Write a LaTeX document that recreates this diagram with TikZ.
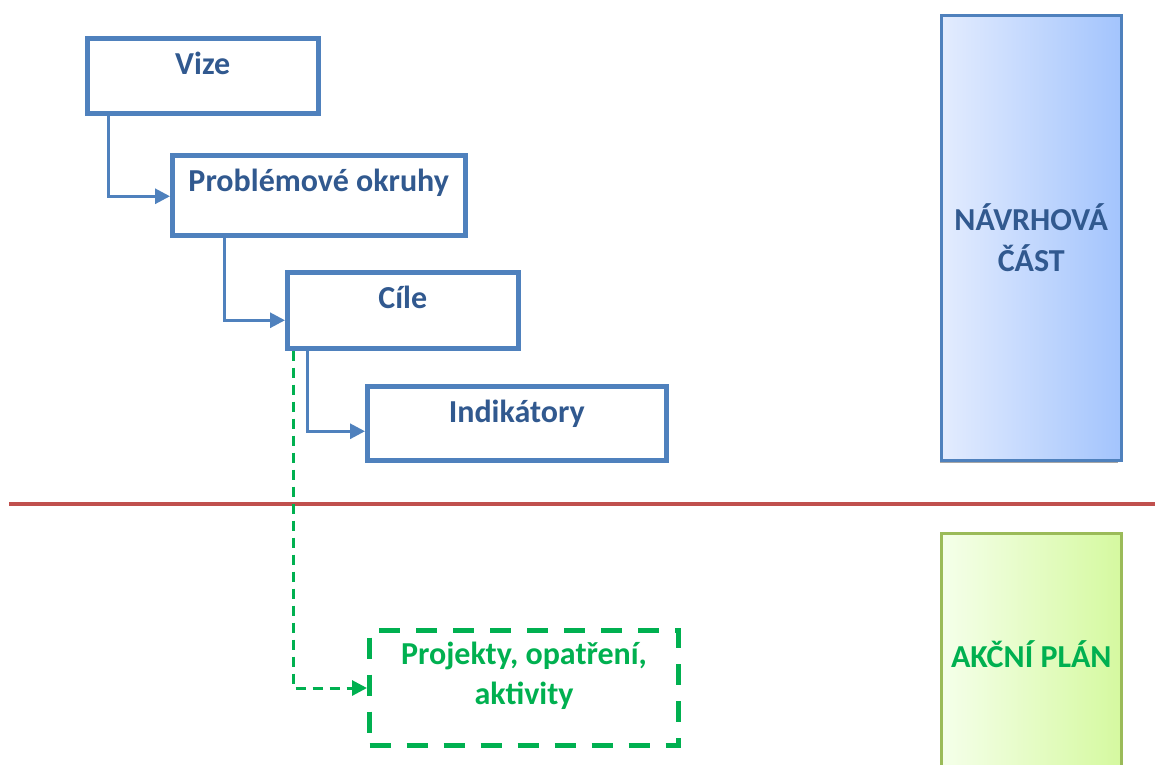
\documentclass[tikz,border=0pt]{standalone}
\usepackage{fontspec}
\setmainfont{Carlito}
\usetikzlibrary{positioning,arrows.meta,calc}
\definecolor{frame}{HTML}{4F81BD}
\definecolor{ink}{HTML}{31598F}
\definecolor{act}{HTML}{00B050}
\definecolor{cut}{HTML}{C0504D}
\definecolor{leaf}{HTML}{9BBB59}
\newcommand{\planfont}{\fontsize{32}{41}\selectfont\bfseries}

\begin{document}
\begin{tikzpicture}[x=1pt,y=-1pt,font=\planfont,
  stage/.style={draw=frame,line width=4.5pt,anchor=north west,inner xsep=0pt,inner ysep=0pt,
    text height=36pt,text depth=39pt,align=center,text=ink},
  link/.style={draw=frame,line width=3pt,-{Triangle[length=15pt,width=15pt]}},
  part/.style={draw,line width=2.5pt,anchor=north west,inner sep=0pt,align=center,
    minimum width=180pt}]
\useasboundingbox (0,0) rectangle (1155,764);

% staircase of the plan
\node[stage,minimum width=231pt] (vize) at (85,36) {Vize};
\node[stage,minimum width=293pt,text depth=44pt] (okruhy) at (170,153) {Problémové okruhy};
\node[stage,minimum width=231pt,text depth=40pt] (cile) at (285,270) {Cíle};
\node[stage,minimum width=299pt,text depth=38pt] (ind) at (365,384) {Indikátory};

\draw[link] ($(vize.south west)+(23,0)$) |- ($(okruhy.west)+(0,1)$);
\draw[link] ($(okruhy.south west)+(54,0)$) |- ($(cile.west)+(0,10)$);
\draw[link] ($(cile.south west)+(22,0)$) |- ($(ind.west)+(0,8)$);

% border between the two parts
\draw[cut,line width=4pt] (9,504) -- (1155,504);

\node[draw=act,line width=5pt,dash pattern=on 21pt off 16pt,anchor=north west,inner sep=0pt,
  minimum width=309pt,text height=74pt,text depth=41pt,align=center,text=act,
  font=\fontsize{32}{40}\selectfont\bfseries] (proj) at (367,628)
  {Projekty, opatření,\\aktivity};
\draw[act,line width=3pt,dash pattern=on 10pt off 7pt,-{Triangle[length=15pt,width=15pt]}]
  ($(cile.south west)+(8,0)$) |- (proj.west);

% the two parts
\fill[gray!70] (940,22) rectangle (1118,463);
\node[part,draw=frame,minimum height=445pt,left color={rgb,255:red,227;green,236;blue,254},
  right color={rgb,255:red,163;green,196;blue,253},text=ink] (navrh) at (940,14)
  {NÁVRHOVÁ\\ČÁST};
\node[part,draw=leaf,minimum height=242pt,left color={rgb,255:red,245;green,255;blue,234},
  right color={rgb,255:red,213;green,249;blue,160},text=act] (plan) at (940,532)
  {AKČNÍ PLÁN};
\end{tikzpicture}
\end{document}
